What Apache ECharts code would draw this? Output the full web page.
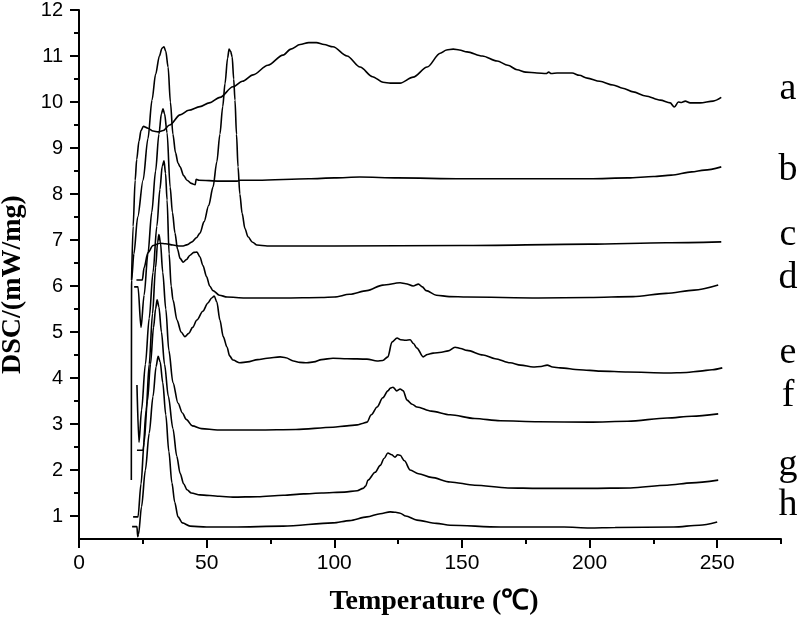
<!DOCTYPE html>
<html>
<head>
<meta charset="utf-8" />
<title>DSC curves</title>
<script src="https://cdn.jsdelivr.net/npm/echarts@6/dist/echarts.min.js"></script>
<style>
    html, body { margin: 0; padding: 0; background: #fff; }
    #main { width: 799px; height: 618px; }
</style>
</head>
<body>
<div id="main"></div>
<script type="text/javascript">
var myChart = echarts.init(document.getElementById('main'));

// tick values
let xMajor = [0, 50, 100, 150, 200, 250];
let xMinor = [25, 75, 125, 175, 225, 275];
let yMajor = [1, 2, 3, 4, 5, 6, 7, 8, 9, 10, 11, 12];
let yMinor = [1.5, 2.5, 3.5, 4.5, 5.5, 6.5, 7.5, 8.5, 9.5, 10.5, 11.5];

let curveNames = ['a', 'b', 'c', 'd', 'e', 'f', 'g', 'h'];

// [temperature, DSC]
let curveA = [[20.6,6.13],[21.2,7.3],[22.0,8.3],[22.6,8.75],[23.5,9.15],[24.3,9.38],[25.2,9.47],[27,9.43],[29,9.37],[31,9.35],[33,9.38],[35.5,9.5],[39.6,9.72],[43,9.82],[47.4,9.9],[51,9.98],[55.2,10.1],[60.3,10.33],[64,10.45],[68.2,10.59],[74,10.8],[79.9,11.02],[83,11.15],[86.6,11.25],[90,11.29],[93,11.29],[96,11.25],[99.5,11.2],[105,11.0],[110.1,10.76],[115,10.55],[119.1,10.43],[122,10.41],[125.8,10.41],[130.9,10.54],[136.4,10.76],[141.5,11.06],[144,11.13],[146.6,11.15],[149,11.13],[152,11.09],[158,11.0],[163.8,10.89],[168,10.8],[171.6,10.7],[175,10.65],[179.4,10.63],[183,10.62],[184,10.65],[185,10.62],[187.3,10.63],[193.2,10.63],[196,10.58],[199.1,10.52],[204,10.45],[209.2,10.37],[213,10.3],[217.1,10.22],[222,10.13],[227.7,10.04],[231.6,9.98],[233.2,9.89],[234.8,10.0],[236,9.99],[237.5,10.02],[239.4,9.98],[243.3,9.98],[248.4,10.02],[251.6,10.1]];
let curveB = [[20.5,1.78],[20.6,6.13],[21.5,6.7],[23,7.5],[25.1,8.3],[27,9.2],[28.6,10.04],[30,10.6],[31.5,11.0],[32.5,11.17],[33.3,11.2],[34,11.1],[34.9,10.76],[35.8,10.0],[36.8,9.3],[37.8,8.9],[38.8,8.67],[39.6,8.59],[41,8.4],[42.3,8.3],[44,8.23],[45.5,8.2],[45.9,8.32],[47,8.3],[55,8.28],[62,8.28],[63,8.3],[70,8.3],[90,8.33],[100,8.35],[110,8.37],[125,8.35],[150,8.33],[175,8.33],[200,8.33],[215,8.35],[225,8.38],[232,8.41],[240,8.48],[245,8.52],[251.6,8.59]];
let curveC = [[22.5,6.13],[24.8,6.13],[25.5,6.4],[27,6.72],[29,6.88],[31.7,6.93],[34,6.92],[36.8,6.89],[39,6.87],[40.8,6.87],[42.5,6.9],[44.3,6.96],[46,7.05],[47.4,7.15],[49,7.4],[50.8,7.75],[52.5,8.15],[54,8.7],[55.2,9.3],[56.3,9.9],[57.2,10.4],[58.2,10.95],[58.8,11.15],[59.4,11.1],[60,10.98],[60.6,10.5],[61.1,10.04],[61.7,9.3],[62.3,8.59],[63,8.0],[63.9,7.58],[65,7.25],[66.2,7.07],[68,6.95],[69.7,6.89],[73.7,6.87],[100,6.87],[150,6.88],[200,6.91],[230,6.94],[251.6,6.96]];
let curveD = [[21.6,5.98],[23.1,5.98],[24.3,5.1],[25.5,5.8],[27,6.7],[28.5,7.6],[30,8.5],[31.3,9.3],[32.3,9.75],[32.9,9.85],[33.5,9.75],[34.5,9.33],[35.7,8.15],[36.6,7.6],[37.6,7.15],[38.6,6.8],[39.6,6.6],[40.8,6.52],[42,6.57],[43.5,6.67],[45,6.73],[46.2,6.74],[47.4,6.63],[48.5,6.45],[50,6.2],[51.2,6.0],[52.5,5.9],[55,5.8],[58,5.76],[65,5.74],[80,5.74],[95,5.75],[100,5.76],[106,5.82],[112.8,5.9],[119,6.02],[125.8,6.07],[128,6.05],[130.9,6.0],[133,6.04],[134.5,5.98],[136,5.9],[140,5.8],[145,5.77],[152,5.76],[180,5.74],[200,5.75],[217,5.77],[230,5.84],[241,5.91],[250.4,6.02]];
let curveE = [[22.7,3.85],[23.5,2.6],[24.5,3.3],[26,4.3],[27.5,5.3],[29,6.3],[30.5,7.3],[31.7,8.1],[32.6,8.6],[33.3,8.72],[33.9,8.45],[34.5,7.87],[35.3,6.7],[36.1,6.0],[36.8,5.7],[38.4,5.26],[40,5.0],[41.5,4.9],[43,4.97],[44.5,5.1],[46.2,5.26],[48.5,5.45],[50.5,5.63],[52,5.74],[53,5.78],[54,5.65],[55.2,5.26],[56.5,4.9],[58,4.67],[59,4.48],[60.3,4.39],[63,4.33],[66,4.35],[70,4.4],[73.7,4.43],[78.8,4.46],[81,4.44],[84,4.37],[86.5,4.34],[89.3,4.33],[92,4.35],[95,4.4],[99.5,4.43],[105,4.42],[112.8,4.41],[116.8,4.37],[119,4.38],[121,4.46],[122.6,4.78],[124.6,4.87],[126,4.83],[128,4.82],[129.7,4.83],[131,4.75],[132.4,4.65],[134.8,4.46],[136.5,4.51],[138.7,4.54],[142,4.56],[144.6,4.59],[147.3,4.67],[149.5,4.64],[152,4.6],[158.3,4.5],[163,4.42],[168.9,4.33],[173,4.28],[177.9,4.24],[181,4.25],[183.4,4.28],[185.5,4.24],[188.5,4.22],[196,4.18],[204.2,4.15],[215,4.13],[230.4,4.11],[238,4.12],[243.3,4.15],[248,4.18],[252,4.22]];
let curveF = [[22.7,2.43],[25.1,2.43],[26.3,3.3],[27.5,4.3],[28.8,5.4],[30,6.4],[30.8,6.95],[31.3,7.12],[31.9,6.95],[32.8,6.3],[34,5.5],[35.2,4.6],[36.8,3.9],[38.8,3.45],[40.5,3.24],[42,3.1],[44.4,2.96],[48,2.9],[54.2,2.87],[70,2.87],[85,2.88],[99.5,2.93],[105,2.96],[109,2.98],[111,3.01],[112.8,3.04],[114.5,3.2],[116.8,3.37],[119,3.57],[121,3.72],[122,3.78],[123,3.8],[124.5,3.72],[125.8,3.76],[127,3.72],[128.5,3.52],[130.5,3.43],[132.4,3.37],[138,3.28],[145.4,3.2],[155,3.12],[165,3.07],[180,3.05],[200,3.04],[215,3.06],[230.4,3.13],[240,3.17],[250.4,3.22]];
let curveG = [[21.2,0.98],[23.1,0.98],[24.3,1.7],[25.5,2.6],[26.8,3.5],[28,4.3],[29.2,5.1],[30,5.5],[30.6,5.7],[31.3,5.55],[32.3,5.0],[33.5,4.3],[35,3.6],[36.8,2.9],[38.3,2.3],[39.6,1.93],[41,1.7],[42.3,1.57],[44,1.5],[47.4,1.46],[55,1.43],[60.3,1.41],[70,1.42],[80,1.45],[88,1.48],[95,1.5],[104,1.52],[109,1.55],[111.3,1.6],[112.3,1.65],[113.2,1.78],[116,1.95],[118,2.1],[119.5,2.25],[121,2.37],[122.5,2.33],[123.8,2.28],[124.8,2.33],[125.8,2.32],[127.5,2.2],[129.7,2.0],[133,1.92],[138,1.84],[145.4,1.74],[155,1.67],[168,1.61],[180,1.6],[200,1.6],[216,1.61],[230.4,1.67],[240,1.72],[250.4,1.78]];
let curveH = [[20.8,0.77],[22.7,0.77],[23.0,0.55],[23.3,0.6],[24.5,1.2],[26,2.0],[27.5,2.8],[29,3.6],[30.2,4.25],[31,4.47],[31.8,4.35],[32.8,3.9],[34,3.2],[35.2,2.4],[36.4,1.72],[37.5,1.3],[38.8,0.98],[40.5,0.85],[43.5,0.78],[50,0.76],[60.3,0.76],[80,0.78],[99.5,0.85],[106,0.9],[112.8,0.98],[118,1.05],[121.9,1.09],[124,1.08],[125.8,1.06],[128,1.0],[132.4,0.91],[140,0.84],[145.4,0.8],[165,0.76],[190,0.76],[200,0.74],[210,0.75],[233,0.76],[243,0.8],[250,0.87]];

let curves = [curveA, curveB, curveC, curveD, curveE, curveF, curveG, curveH];

// label positions (pixels) for the curve letters
let labelTop = [89, 170, 235, 278, 353, 396, 465, 505];

let series = [];
curves.forEach((d, i) => {
    series.push({
        name: curveNames[i],
        type: 'line',
        data: d,
        showSymbol: false,
        smooth: 0.3,
        smoothMonotone: 'x',
        lineStyle: { color: '#000', width: 1.6 },
        xAxisIndex: 0,
        yAxisIndex: 0
    });
});

let graphics = [];
curveNames.forEach((n, i) => {
    graphics.push({
        type: 'text',
        x: 788,
        y: labelTop[i],
        style: {
            text: n,
            fill: '#000',
            font: '38px "Liberation Serif"',
            textAlign: 'center',
            textVerticalAlign: 'middle'
        }
    });
});

let tickFont = '"Liberation Sans", Arial, sans-serif';
let titleFont = '"Liberation Serif", "Times New Roman", serif';

option = {
    animation: false,
    backgroundColor: '#fff',
    grid: { left: 79, right: 18, top: 10, bottom: 79, outerBoundsMode: 'none' },
    xAxis: [{
        type: 'value',
        min: 0,
        max: 275,
        name: 'Temperature (℃)',
        nameLocation: 'middle',
        nameGap: 49,
        nameTextStyle: { color: '#000', fontFamily: titleFont, fontWeight: 'bold', fontSize: 28, padding: [0, 0, 0, 8] },
        axisLine: { lineStyle: { color: '#000', width: 2 } },
        axisTick: { customValues: xMajor, length: 9, lineStyle: { color: '#000', width: 2 } },
        axisLabel: { customValues: xMajor, color: '#000', fontSize: 21, fontFamily: tickFont, margin: 14 },
        splitLine: { show: false }
    }, {
        type: 'value',
        min: 0,
        max: 275,
        position: 'bottom',
        axisLine: { show: false },
        axisTick: { customValues: xMinor, length: 5, lineStyle: { color: '#000', width: 2 } },
        axisLabel: { show: false },
        splitLine: { show: false }
    }],
    yAxis: [{
        type: 'value',
        min: 0.5,
        max: 12,
        name: 'DSC/(mW/mg)',
        nameLocation: 'middle',
        nameGap: 52,
        nameTextStyle: { color: '#000', fontFamily: titleFont, fontWeight: 'bold', fontSize: 28, padding: [0, 20, 0, 0] },
        axisLine: { show: true, lineStyle: { color: '#000', width: 2 } },
        axisTick: { show: true, customValues: yMajor, length: 9, lineStyle: { color: '#000', width: 2 } },
        axisLabel: { customValues: yMajor, color: '#000', fontSize: 20, fontFamily: tickFont, margin: 16 },
        splitLine: { show: false }
    }, {
        type: 'value',
        min: 0.5,
        max: 12,
        position: 'left',
        axisLine: { show: false },
        axisTick: { show: true, customValues: yMinor, length: 5, lineStyle: { color: '#000', width: 2 } },
        axisLabel: { show: false },
        splitLine: { show: false }
    }],
    graphic: graphics,
    series: series
};

myChart.setOption(option);
</script>
</body>
</html>
